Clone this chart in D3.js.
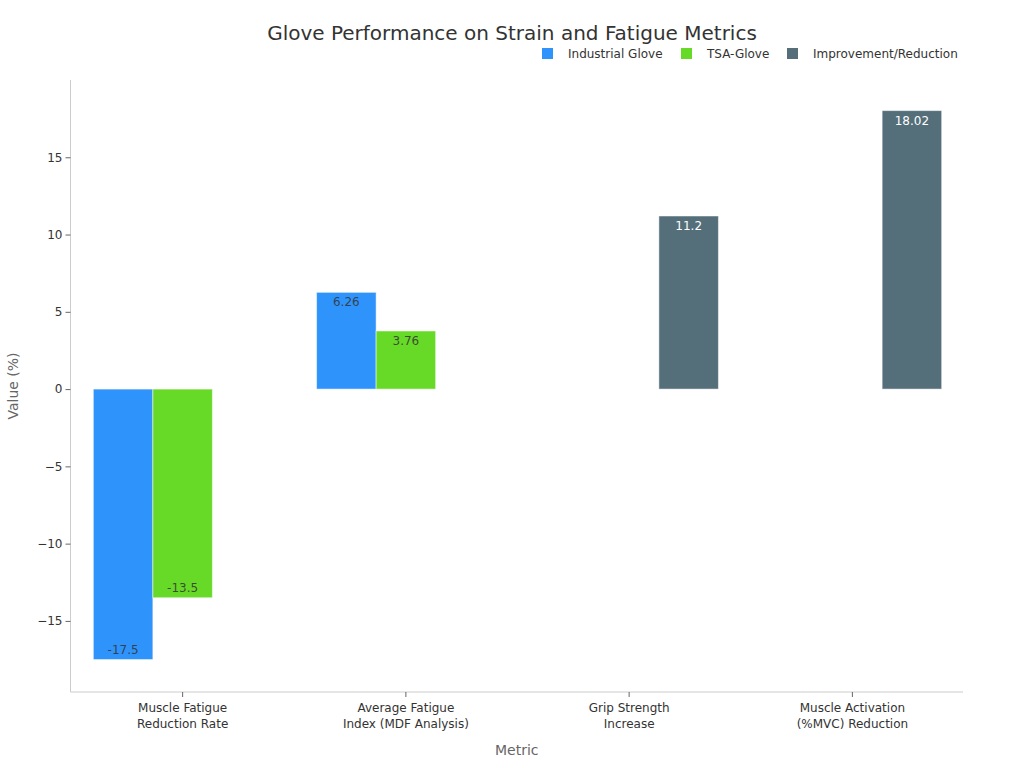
<!DOCTYPE html>
<html><head><meta charset="utf-8">
<script src="https://cdn.jsdelivr.net/npm/d3@7"></script>
<style>body{margin:0;background:#fff;font-family:"DejaVu Sans",sans-serif;}</style>
</head><body><svg id="c" width="1024" height="768"></svg>
<script>
const categories = [["Muscle Fatigue","Reduction Rate"],["Average Fatigue","Index (MDF Analysis)"],["Grip Strength","Increase"],["Muscle Activation","(%MVC) Reduction"]];
const seriesNames = ["Industrial Glove","TSA-Glove","Improvement/Reduction"];
const industrial = [-17.5, 6.26, null, null];
const tsa = [-13.5, 3.76, null, null];
const improvement = [null, null, 11.2, 18.02];
const colors = ["#2E93FA","#66DA26","#546E7A"];
const labelColors = ["#333","#333","#fff"];
const yTicks = [-15,-10,-5,0,5,10,15];

const svg = d3.select("#c");
const L=70.5, R=963, T=80, B=692;
const catKeys = categories.map(c=>c.join(" "));
const x0 = d3.scaleBand().domain(catKeys).range([71,964]).paddingInner(0.2).paddingOuter(0.1);
const x1 = d3.scaleBand().domain(seriesNames).range([0,x0.bandwidth()]);
const y = d3.scaleLinear().domain([-19.6,20]).range([B,T]);

// axes
const ya = svg.append("g").attr("transform",`translate(${L},0)`)
  .call(d3.axisLeft(y).tickValues(yTicks).tickSize(5).tickPadding(3));
ya.select(".domain").attr("stroke","#ccc").attr("d",`M0,${T}V${B}`);
ya.selectAll(".tick line").attr("stroke","#666");
ya.selectAll(".tick text").attr("fill","#333").style("font-family","DejaVu Sans").style("font-size","12px");

const xa = svg.append("g").attr("transform",`translate(0,${B})`)
  .call(d3.axisBottom(x0).tickSize(5).tickFormat(""));
xa.select(".domain").attr("stroke","#ccc").attr("d",`M${L},0H${R}`);
xa.selectAll(".tick line").attr("stroke","#666");
xa.selectAll(".tick").each(function(d,i){
  const t = d3.select(this).append("text").attr("fill","#333").attr("text-anchor","middle")
    .style("font-family","DejaVu Sans").style("font-size","12px");
  categories[i].forEach((ln,j)=>t.append("tspan").attr("x",0).attr("y",20+j*16).text(ln));
});

// bars
const all = [industrial,tsa,improvement];
all.forEach((vals,s)=>{
  vals.forEach((v,i)=>{
    if(v===null) return;
    const xx = x0(catKeys[i])+x1(seriesNames[s]);
    const w = x1.bandwidth();
    svg.append("rect").attr("x",xx).attr("width",w)
      .attr("y",Math.min(y(v),y(0))).attr("height",Math.abs(y(v)-y(0)))
      .attr("fill",colors[s]).attr("stroke","#fff").attr("stroke-opacity",0.5).attr("stroke-width",1);
    svg.append("text").attr("x",xx+w/2).attr("y", v>=0 ? y(v)+14 : y(v)-6)
      .attr("text-anchor","middle").attr("fill",labelColors[s]).attr("fill-opacity",s<2?0.85:1)
      .style("font-family","DejaVu Sans").style("font-size","12px").text(v);
  });
});

// title
svg.append("text").attr("x",512).attr("y",40).attr("text-anchor","middle").attr("fill","#333")
  .style("font-family","DejaVu Sans").style("font-size","20px").text("Glove Performance on Strain and Fatigue Metrics");

// axis titles
svg.append("text").attr("transform",`translate(18,${(T+B)/2}) rotate(-90)`).attr("text-anchor","middle")
  .attr("fill","#666").style("font-family","DejaVu Sans").style("font-size","14px").text("Value (%)");
svg.append("text").attr("x",(L+R)/2).attr("y",755).attr("text-anchor","middle")
  .attr("fill","#666").style("font-family","DejaVu Sans").style("font-size","14px").text("Metric");

// legend
const legX = [542,681,787];
seriesNames.forEach((n,i)=>{
  svg.append("rect").attr("x",legX[i]).attr("y",48).attr("width",11).attr("height",11).attr("fill",colors[i]);
  svg.append("text").attr("x",legX[i]+26).attr("y",58).attr("fill","#333")
    .style("font-family","DejaVu Sans").style("font-size","12px").text(n);
});
</script></body></html>
